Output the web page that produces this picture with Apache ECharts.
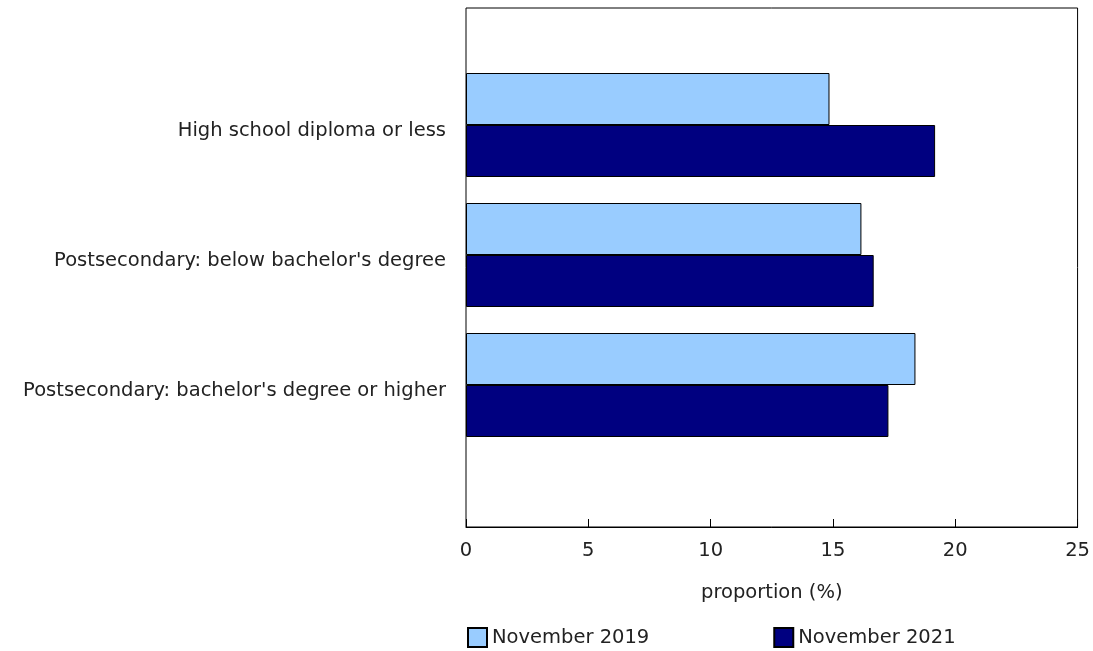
<!DOCTYPE html>
<html lang="en">
<head>
	<meta charset="UTF-8">
	<title>Proportion by education</title>
	<style>
	body, div {
		margin: 0;
		padding: 0;
	}
	#echart {
		width: 1093px;
		height: 651px;
	}
	</style>
</head>
<body>
	<div id="echart"></div>

	<script src="https://cdn.jsdelivr.net/npm/echarts@6/dist/echarts.min.js"></script>

	<script>
	// data
	var categories = [
		'High school diploma or less',
		'Postsecondary: below bachelor\'s degree',
		'Postsecondary: bachelor\'s degree or higher'
	];
	var nov2019 = [14.8, 16.1, 18.3];
	var nov2021 = [19.1, 16.6, 17.2];
	var seriesNames = ['November 2019', 'November 2021'];
	var xTicks = { min: 0, max: 25, step: 5 };

	var font = 'DejaVu Sans, Verdana, sans-serif';
	var myEchart = echarts.init(document.getElementById('echart'));

	var option = {
		animation: false,
		textStyle: { fontFamily: font },
		legend: {
			left: 467,
			top: 627,
			padding: 0,
			itemWidth: 19,
			itemHeight: 19,
			itemGap: 124,
			icon: 'rect',
			textStyle: { fontSize: 19.5, color: '#222', fontFamily: font }
		},
		grid: [
			// frame + x axis
			{ left: 466, top: 8, width: 614, height: 519, show: true, borderColor: '#000', borderWidth: 1 },
			// bar area
			{ left: 466, top: 60, width: 614, height: 390 }
		],
		xAxis: [
			{
				gridIndex: 0,
				type: 'value',
				min: xTicks.min,
				max: xTicks.max,
				interval: xTicks.step,
				name: 'proportion (%)',
				nameLocation: 'middle',
				nameGap: 56,
				nameTextStyle: { fontSize: 19.5, color: '#222', fontFamily: font },
				splitLine: { show: false },
				axisLine: { lineStyle: { color: '#000', width: 1 } },
				axisTick: { inside: true, length: 8, lineStyle: { color: '#000' } },
				axisLabel: { fontSize: 19.5, color: '#222', margin: 14, fontFamily: font }
			},
			{
				gridIndex: 1,
				type: 'value',
				min: xTicks.min,
				max: xTicks.max,
				show: false
			}
		],
		yAxis: [
			{ gridIndex: 0, type: 'value', show: false },
			{
				gridIndex: 1,
				type: 'category',
				inverse: true,
				data: categories,
				axisLine: { show: false },
				axisTick: { show: false },
				axisLabel: {
					fontSize: 19.5,
					color: '#222',
					margin: 20,
					verticalAlign: 'top',
					lineHeight: 12,
					fontFamily: font
				}
			}
		],
		series: [
			{
				name: seriesNames[0],
				type: 'bar',
				xAxisIndex: 1,
				yAxisIndex: 1,
				data: nov2019,
				barGap: '0%',
				barCategoryGap: '20%',
				itemStyle: { color: '#99ccff', borderColor: '#000', borderWidth: 1 }
			},
			{
				name: seriesNames[1],
				type: 'bar',
				xAxisIndex: 1,
				yAxisIndex: 1,
				data: nov2021,
				barGap: '0%',
				barCategoryGap: '20%',
				itemStyle: { color: '#000080', borderColor: '#000', borderWidth: 1 }
			}
		]
	};

	myEchart.setOption(option);
	</script>
</body>
</html>
